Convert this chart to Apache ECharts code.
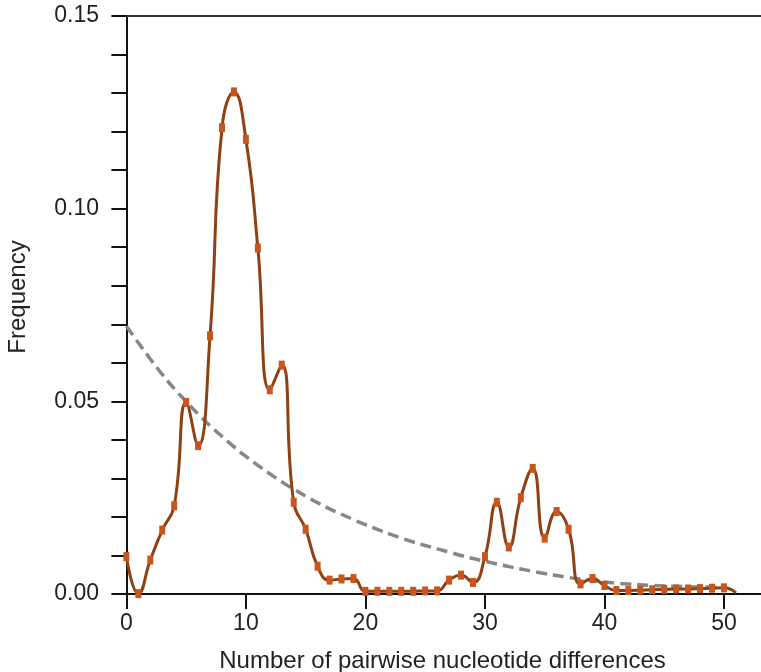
<!DOCTYPE html>
<html><head><meta charset="utf-8">
<script src="https://cdn.jsdelivr.net/npm/echarts@6/dist/echarts.min.js"></script>
<style>html,body{margin:0;padding:0;background:#fff}#c{width:761px;height:672px}</style>
</head><body><div id="c"></div>
<script>
const diffs = [0,1,2,3,4,5,6,7,8,9,10,11,12,13,14,15,16,17,18,19,20,21,22,23,24,25,26,27,28,29,30,31,32,33,34,35,36,37,38,39,40,41,42,43,44,45,46,47,48,49,50,51];
const observed = [0.0097,0.0001,0.0088,0.0166,0.0229,0.0497,0.0385,0.0670,0.1210,0.1303,0.1180,0.0898,0.0530,0.0594,0.0238,0.0168,0.0072,0.0036,0.0039,0.0040,0.0007,0.0007,0.0007,0.0007,0.0007,0.0008,0.0008,0.0036,0.0049,0.0030,0.0097,0.0238,0.0122,0.0250,0.0326,0.0145,0.0214,0.0168,0.0026,0.0040,0.0022,0.0009,0.0009,0.0010,0.0011,0.0012,0.0013,0.0013,0.0014,0.0015,0.0016,0.0003];
const expected = [0.0695,0.0652,0.0610,0.0570,0.0533,0.0500,0.0467,0.0437,0.0409,0.0382,0.0357,0.0334,0.0312,0.0291,0.0272,0.0254,0.0237,0.0221,0.0207,0.0193,0.0180,0.0168,0.0156,0.0145,0.0135,0.0126,0.0117,0.0109,0.0100,0.0092,0.0085,0.0078,0.0071,0.0065,0.0059,0.0053,0.0048,0.0043,0.0039,0.0035,0.0031,0.0028,0.0026,0.0024,0.0022,0.0021,0.0020,0.0019,0.0018,0.0018,0.0017];
const xTickValues = [0,10,20,30,40,50];
const xName = 'Number of pairwise nucleotide differences';
const yName = 'Frequency';

const font = 'Liberation Sans, Arial, sans-serif';
const chart = echarts.init(document.getElementById('c'), null, {renderer:'canvas'});
const obsData = diffs.map((x,i) => {
  const item = {value:[x, observed[i]]};
  if (i === diffs.length - 1) item.symbol = 'none';
  return item;
});
const expData = expected.map((v,i) => [diffs[i], v]);
chart.setOption({
  animation:false,
  backgroundColor:'#fff',
  grid:{left:124, right:0, top:16, bottom:78, containLabel:false, outerBoundsMode:'none'},
  xAxis:[{
    type:'value', min:-0.2, max:53.1, position:'bottom',
    name:xName, nameLocation:'middle', nameGap:55,
    nameTextStyle:{fontFamily:font, fontSize:24, color:'#222'},
    axisLine:{show:true, onZero:false, lineStyle:{color:'#111', width:2}},
    axisTick:{show:true, length:15, lineStyle:{color:'#111', width:2}, customValues:xTickValues},
    axisLabel:{show:true, margin:18, fontFamily:font, fontSize:23, color:'#222', customValues:xTickValues},
    splitLine:{show:false}
  },{
    type:'value', min:-0.2, max:53.1, position:'top',
    axisLine:{show:true, onZero:false, lineStyle:{color:'#333', width:2}},
    axisTick:{show:false}, axisLabel:{show:false}, splitLine:{show:false}
  }],
  yAxis:{
    type:'value', min:0, max:0.15, interval:0.05,
    name:yName, nameLocation:'middle', nameGap:94,
    nameTextStyle:{fontFamily:font, fontSize:24, color:'#222', padding:[0,0,0,16]},
    axisLine:{show:true, lineStyle:{color:'#111', width:2}},
    axisTick:{show:true, length:15, lineStyle:{color:'#111', width:2}},
    minorTick:{show:true, splitNumber:5, length:15, lineStyle:{color:'#111', width:2}},
    axisLabel:{margin:25, fontFamily:font, fontSize:23, color:'#222', formatter:v=>v.toFixed(2)},
    splitLine:{show:false}, minorSplitLine:{show:false}
  },
  series:[{
    type:'line', data:expData, smooth:0.5, showSymbol:false, symbol:'none',
    lineStyle:{color:'#878787', width:3.5, type:[11,6]}, z:2
  },{
    type:'line', data:obsData, smooth:0.5, symbol:'rect', symbolSize:[6,9],
    itemStyle:{color:'#c8561c'}, lineStyle:{color:'#8e4114', width:3}, z:3
  }]
});
</script></body></html>
